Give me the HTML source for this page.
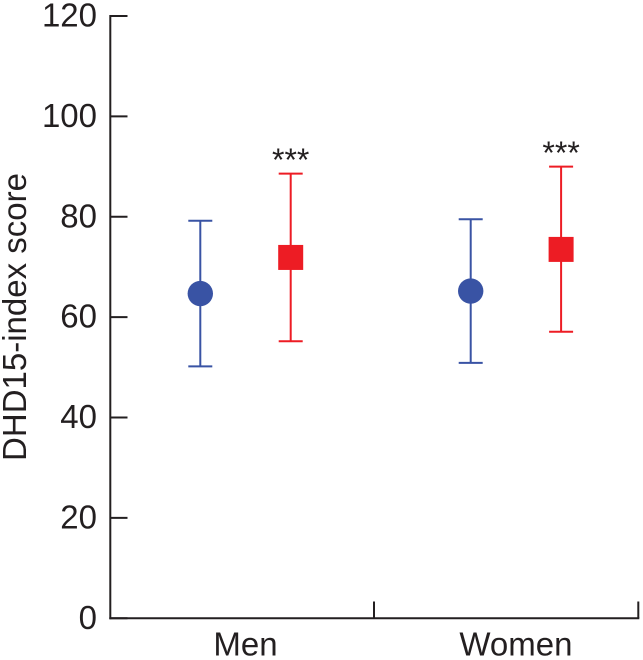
<!DOCTYPE html>
<html>
<head>
<meta charset="utf-8">
<style>
html,body{margin:0;padding:0;background:#fff;}
svg{display:block;}
text{font-family:"Liberation Sans",Arial,sans-serif;fill:#231f20;}
</style>
</head>
<body>
<svg id="chart" width="643" height="660" viewBox="0 0 643 660" xmlns="http://www.w3.org/2000/svg"></svg>
<script>
const yTicks = [0, 20, 40, 60, 80, 100, 120];
const groups = ["Men", "Women"];
const seriesNames = ["blue-circle", "red-square"];
const blueMeans = [64.7, 65.2];
const blueLower = [50.2, 50.9];
const blueUpper = [79.2, 79.5];
const redMeans = [71.9, 73.5];
const redLower = [55.2, 57.1];
const redUpper = [88.6, 90.0];
const significance = ["***", "***"];

const svg = document.getElementById('chart');
const NS = 'http://www.w3.org/2000/svg';
const dark = '#231f20';
const blue = '#3953a4';
const red = '#ed1c24';
const fontSize = 33;

function y(v){ return 618.3 - v * 5.019; }
function xBlue(i){ return 200.3 + i * 270.4; }
function xRed(i){ return 290.7 + i * 270.4; }
function xGroup(i){ return (xBlue(i) + xRed(i)) / 2; }

function add(tag, attrs, name, text){
  const el = document.createElementNS(NS, tag);
  for (const k in attrs) el.setAttribute(k, attrs[k]);
  
  
  if (text !== undefined) el.textContent = text;
  svg.appendChild(el);
  return el;
}
function line(x1, y1, x2, y2, stroke, name){
  return add('line', {x1, y1, x2, y2, stroke, 'stroke-width': 2}, name);
}

line(110.3, y(120) - 1, 110.3, y(0) + 1, dark, 'y-axis-line');
line(109.3, y(0), 639.3, y(0), dark, 'x-axis-line');

yTicks.forEach(t => {
  line(110.3, y(t), 127.5, y(t), dark, 'y-tick-' + t);
  add('text', {x: 97, y: y(t) + 10.5, 'font-size': fontSize, 'text-anchor': 'end'}, 'y-tick-label-' + t, String(t));
});

line(374, 601.5, 374, y(0), dark, 'x-tick-divider');
line(638.3, 601.5, 638.3, y(0), dark, 'x-tick-end');

groups.forEach((g, i) => {
  add('text', {x: xGroup(i), y: 655.5, 'font-size': fontSize, 'text-anchor': 'middle'}, 'x-label-' + g.toLowerCase(), g);

  const bx = xBlue(i);
  line(bx, y(blueLower[i]), bx, y(blueUpper[i]), blue, 'error-bar-blue-' + g.toLowerCase());
  line(bx - 12, y(blueUpper[i]), bx + 12, y(blueUpper[i]), blue, 'error-cap-upper-blue-' + g.toLowerCase());
  line(bx - 12, y(blueLower[i]), bx + 12, y(blueLower[i]), blue, 'error-cap-lower-blue-' + g.toLowerCase());
  add('circle', {cx: bx, cy: y(blueMeans[i]), r: 12.7, fill: blue}, 'point-blue-' + g.toLowerCase());

  const rx = xRed(i);
  line(rx, y(redLower[i]), rx, y(redUpper[i]), red, 'error-bar-red-' + g.toLowerCase());
  line(rx - 12, y(redUpper[i]), rx + 12, y(redUpper[i]), red, 'error-cap-upper-red-' + g.toLowerCase());
  line(rx - 12, y(redLower[i]), rx + 12, y(redLower[i]), red, 'error-cap-lower-red-' + g.toLowerCase());
  add('rect', {x: rx - 12.5, y: y(redMeans[i]) - 12.5, width: 25, height: 25, fill: red}, 'point-red-' + g.toLowerCase());

  add('text', {x: rx, y: y(redUpper[i]) - 2.5, 'font-size': 32, 'text-anchor': 'middle'}, 'significance-' + g.toLowerCase(), significance[i]);
});

add('text', {
  x: 0, y: 0, 'font-size': fontSize, 'text-anchor': 'middle',
  transform: 'translate(26 317) rotate(-90)'
}, 'y-axis-title', 'DHD15-index score');
</script>
</body>
</html>
